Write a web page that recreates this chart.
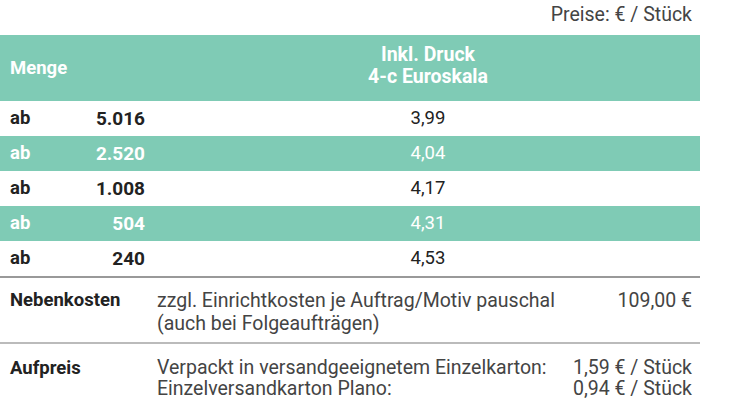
<!DOCTYPE html>
<html><head><meta charset="utf-8">
<script src="https://cdn.jsdelivr.net/npm/chart.js@4"></script>
<style>
body{margin:0;width:730px;height:413px;overflow:hidden;background:#fff;font-family:Roboto,sans-serif;color:#222;font-size:18px;position:relative}
.abs{position:absolute;white-space:nowrap}
.teal{background:#7fcbb5;color:#fff}
</style></head><body>
<div id="root"></div>
<script>
const quantities = ["5.016", "2.520", "1.008", "504", "240"];
const prices = ["3,99", "4,04", "4,17", "4,31", "4,53"];
const header = ["Menge", "Inkl. Druck", "4-c Euroskala"];

const root = document.getElementById("root");
function add(html, style, cls) {
  const d = document.createElement("div");
  d.className = "abs " + (cls || "");
  d.style.cssText = style;
  d.innerHTML = html;
  root.appendChild(d);
  return d;
}
add("Preise: € / Stück", "right:38px;top:3px;font-size:19.5px;color:#444");
add("", "left:0;top:35px;width:700px;height:66px", "teal");
add("<b>" + header[0] + "</b>", "left:10px;top:57px;color:#fff;font-size:18.5px");
add("<b>" + header[1] + "<br>" + header[2] + "</b>", "left:318px;width:220px;top:44px;text-align:center;color:#fff;line-height:22px;font-size:19.5px");
quantities.forEach((q, i) => {
  const top = 101 + i * 35;
  const alt = i % 2 === 1;
  if (alt) add("", `left:0;top:${top}px;width:700px;height:35px`, "teal");
  const col = alt ? "#fff" : "#222";
  add("<b>ab</b>", `left:10px;top:${top + 6}px;color:${col};font-size:18.5px`);
  add("<b>" + q + "</b>", `left:50px;width:95px;text-align:right;top:${top + 6}px;color:${col};font-size:19px`);
  add(prices[i], `left:378px;width:100px;text-align:center;top:${top + 6}px;color:${col};font-size:18.5px`);
});
add("", "left:0;top:276px;width:700px;height:2px;background:#999");
add("<b>Nebenkosten</b>", "left:10px;top:289px;font-size:18.5px");
add("zzgl. Einrichtkosten je Auftrag/Motiv pauschal<br>(auch bei Folgeaufträgen)", "left:157px;top:289px;line-height:23px;color:#444;font-size:19.5px");
add("109,00 €", "right:38px;top:289px;color:#444;font-size:19.5px");
add("", "left:0;top:342px;width:700px;height:2px;background:#bbb");
add("<b>Aufpreis</b>", "left:10px;top:357px;font-size:18.5px");
add("Verpackt in versandgeeignetem Einzelkarton:<br>Einzelversandkarton Plano:", "left:157px;top:357px;line-height:21px;color:#444;font-size:19.5px");
add("1,59 € / Stück<br>0,94 € / Stück", "right:38px;top:357px;line-height:21px;color:#444;text-align:right;font-size:19.5px");
</script>
</body></html>
